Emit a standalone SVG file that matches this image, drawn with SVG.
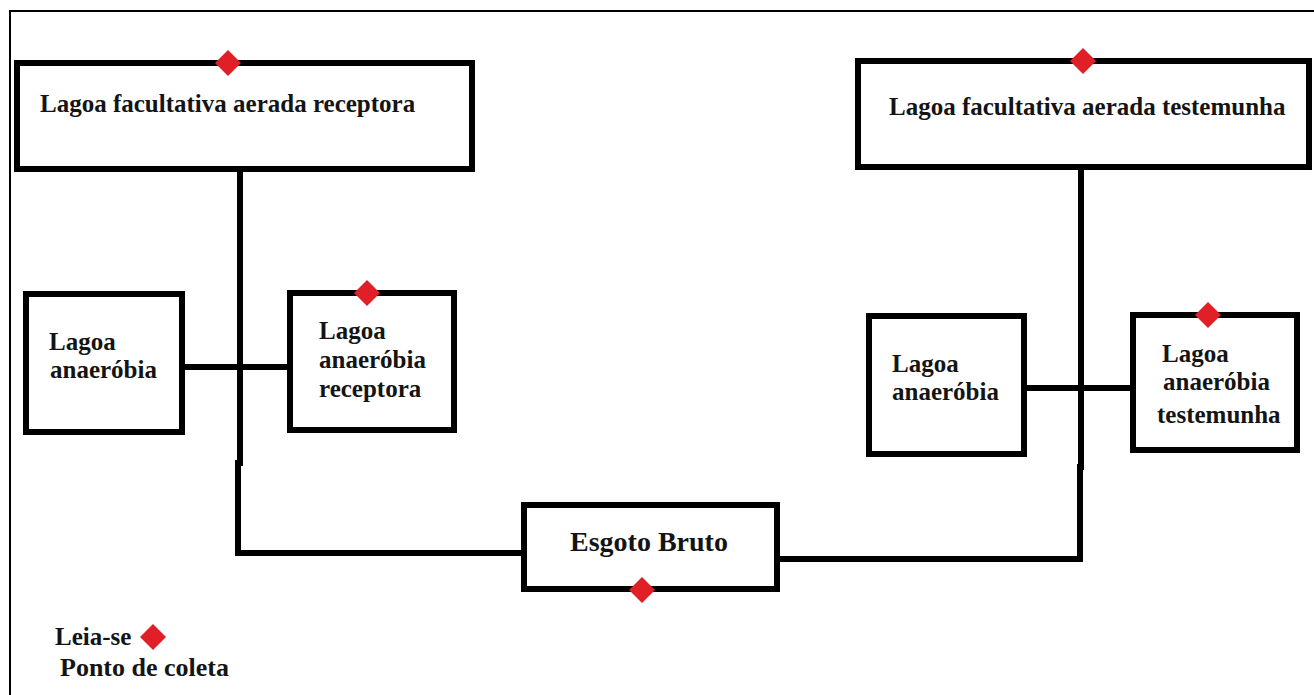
<svg xmlns="http://www.w3.org/2000/svg" xmlns:xlink="http://www.w3.org/1999/xlink" width="1314" height="695" viewBox="0 0 1314 695">
<style>
.box{fill:#fff;stroke:#000;stroke-width:6}
.ln{fill:none;stroke:#000;stroke-width:6;stroke-linejoin:miter;stroke-linecap:square}
.t{font-family:"Liberation Serif","Times New Roman",serif;font-weight:bold;font-size:25px;fill:#141414}
.big{font-size:28px}
</style>
<defs>
<path id="dm" d="M0,-13 L13,0 L0,13 L-13,0 Z" fill="#e01f26"/>
</defs>
<rect x="0" y="0" width="1314" height="695" fill="#fff"/>
<rect x="10" y="11" width="1320" height="720" fill="none" stroke="#000" stroke-width="2"/>
<g id="connectors">
<polyline class="ln" points="240,172 240,463"/>
<polyline class="ln" points="238,463 238,553 521,553"/>
<polyline class="ln" points="184,367 288,367"/>
<polyline class="ln" points="1081,170 1081,467"/>
<polyline class="ln" points="780,559 1080,559 1080,467"/>
<polyline class="ln" points="1026,388 1131,388"/>
</g>
<g id="lagoa-facultativa-receptora">
<rect class="box" x="17" y="63" width="455" height="106"/>
<text class="t" x="40" y="112">Lagoa facultativa aerada receptora</text>
<use xlink:href="#dm" x="228" y="63"/>
</g>
<g id="lagoa-facultativa-testemunha">
<rect class="box" x="858" y="61" width="451" height="106"/>
<text class="t" x="889" y="115">Lagoa facultativa aerada testemunha</text>
<use xlink:href="#dm" x="1083" y="61"/>
</g>
<g id="lagoa-anaerobia-esq">
<rect class="box" x="26" y="294" width="156" height="138"/>
<text class="t" x="49" y="350">Lagoa</text>
<text class="t" x="50" y="378">anaeróbia</text>
</g>
<g id="lagoa-anaerobia-receptora">
<rect class="box" x="290" y="293" width="164" height="137"/>
<text class="t" x="319" y="339">Lagoa</text>
<text class="t" x="319" y="368">anaeróbia</text>
<text class="t" x="319" y="397">receptora</text>
<use xlink:href="#dm" x="367" y="293"/>
</g>
<g id="lagoa-anaerobia-dir">
<rect class="box" x="869" y="316" width="155" height="138"/>
<text class="t" x="892" y="372">Lagoa</text>
<text class="t" x="892" y="400">anaeróbia</text>
</g>
<g id="lagoa-anaerobia-testemunha">
<rect class="box" x="1133" y="315" width="164" height="135"/>
<text class="t" x="1162" y="362">Lagoa</text>
<text class="t" x="1163" y="390">anaeróbia</text>
<text class="t" x="1157" y="423">testemunha</text>
<use xlink:href="#dm" x="1208" y="315"/>
</g>
<g id="esgoto-bruto">
<rect class="box" x="524" y="505" width="253" height="84"/>
<text class="t big" x="570" y="551">Esgoto Bruto</text>
<use xlink:href="#dm" x="642" y="590"/>
</g>
<g id="legenda">
<text class="t" x="55" y="645">Leia-se</text>
<use xlink:href="#dm" x="153" y="637"/>
<text class="t" x="60" y="676" style="font-size:26px">Ponto de coleta</text>
</g>
</svg>
